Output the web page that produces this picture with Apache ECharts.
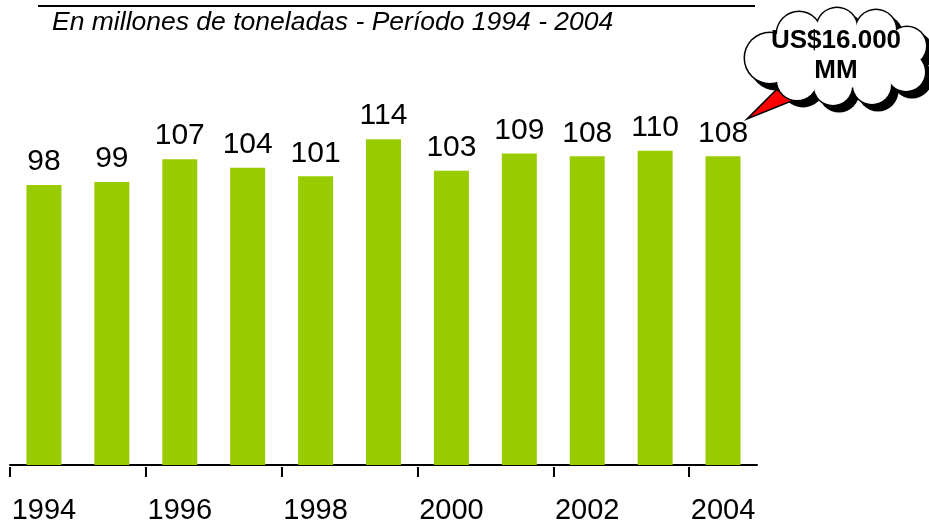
<!DOCTYPE html>
<html>
<head>
    <meta charset="utf-8">
    <title>Toneladas 1994 - 2004</title>
    <script src="https://cdn.jsdelivr.net/npm/echarts@6/dist/echarts.min.js"></script>
    <style>
        html, body { margin: 0; padding: 0; background: #fff; }
        #chart1 { width: 929px; height: 525px; }
    </style>
</head>
<body>
<div id="chart1"></div>
<script>
    // datos del grafico
    var years = ['1994', '1995', '1996', '1997', '1998', '1999', '2000', '2001', '2002', '2003', '2004'];
    var toneladas = [98, 99, 107, 104, 101, 114, 103, 109, 108, 110, 108];
    var subtitulo = 'En millones de toneladas - Período 1994 - 2004';
    var nota = ['US$16.000', 'MM'];

    var font = 'Arial, "Liberation Sans", Helvetica, sans-serif';

    // nube (circulos que se solapan)
    var nube = [
        [770, 58, 25], [799, 34, 22], [837, 28, 20], [876, 30, 20], [907, 46, 19],
        [906, 72, 19], [872, 85, 19], [833, 86, 19], [797, 80, 20]
    ];

    function capa(dx, dy, extra, color) {
        var els = nube.map(function (c) {
            return {
                type: 'circle',
                shape: {cx: c[0] + dx, cy: c[1] + dy, r: c[2] + extra},
                style: {fill: color}
            };
        });
        els.push({
            type: 'ellipse',
            shape: {cx: 838 + dx, cy: 58 + dy, rx: 70 + extra, ry: 30 + extra},
            style: {fill: color}
        });
        return els;
    }

    var graficos = [
        {
            type: 'line',
            shape: {x1: 38, y1: 6, x2: 755, y2: 6},
            style: {stroke: '#000', lineWidth: 2}
        },
        {
            type: 'text',
            x: 52, y: 23,
            style: {
                text: subtitulo,
                font: 'italic 26.5px ' + font,
                fill: '#000',
                textVerticalAlign: 'middle'
            }
        }
    ];
    graficos = graficos.concat(capa(6, 6, 1.5, '#000'));
    graficos.push({
        type: 'polygon',
        shape: {points: [[776, 90], [804, 96], [747, 119]]},
        style: {fill: '#ff0000', stroke: '#000', lineWidth: 1.5}
    });
    graficos = graficos.concat(capa(0, 0, 1.5, '#000'));
    graficos = graficos.concat(capa(0, 0, 0, '#fff'));
    graficos.push({
        type: 'text',
        x: 836, y: 41,
        style: {
            text: nota[0],
            font: 'bold 26px ' + font,
            fill: '#000',
            textAlign: 'center',
            textVerticalAlign: 'middle'
        }
    });
    graficos.push({
        type: 'text',
        x: 836, y: 71,
        style: {
            text: nota[1],
            font: 'bold 26px ' + font,
            fill: '#000',
            textAlign: 'center',
            textVerticalAlign: 'middle'
        }
    });

    // ancho de cada categoria: 747 px / 11
    var anchoCat = 747 / years.length;

    var myChart1 = echarts.init(document.getElementById('chart1'));
    myChart1.setOption({
        animation: false,
        grid: [
            {left: 10, right: 172, top: 93.5, bottom: 58},
            // solo para las marcas del eje (cada 2 años, sin la del final)
            {left: 10, right: 929 - 10 - anchoCat * (years.length - 1), top: 93.5, bottom: 58}
        ],
        xAxis: [
            {
                type: 'category',
                gridIndex: 0,
                data: years,
                axisLine: {lineStyle: {color: '#000', width: 2}},
                axisTick: {show: false},
                axisLabel: {
                    interval: 1,
                    color: '#000',
                    fontFamily: font,
                    fontSize: 29,
                    margin: 31
                }
            },
            {
                type: 'value',
                gridIndex: 1,
                min: 0,
                max: years.length - 1,
                interval: 2,
                axisLine: {show: false},
                axisTick: {show: true, length: 10, lineStyle: {color: '#000', width: 2}},
                axisLabel: {show: false},
                splitLine: {show: false}
            }
        ],
        yAxis: [
            {type: 'value', gridIndex: 0, min: 0, max: 130, show: false, splitLine: {show: false}},
            {type: 'value', gridIndex: 1, min: 0, max: 130, show: false, splitLine: {show: false}}
        ],
        series: [
            {
                name: 'Toneladas',
                type: 'bar',
                xAxisIndex: 0,
                yAxisIndex: 0,
                data: toneladas,
                barWidth: 35,
                itemStyle: {color: '#99cc00'},
                label: {
                    show: true,
                    position: 'top',
                    distance: 8,
                    color: '#000',
                    fontFamily: font,
                    fontSize: 30
                }
            }
        ],
        graphic: graficos
    });
</script>
</body>
</html>
